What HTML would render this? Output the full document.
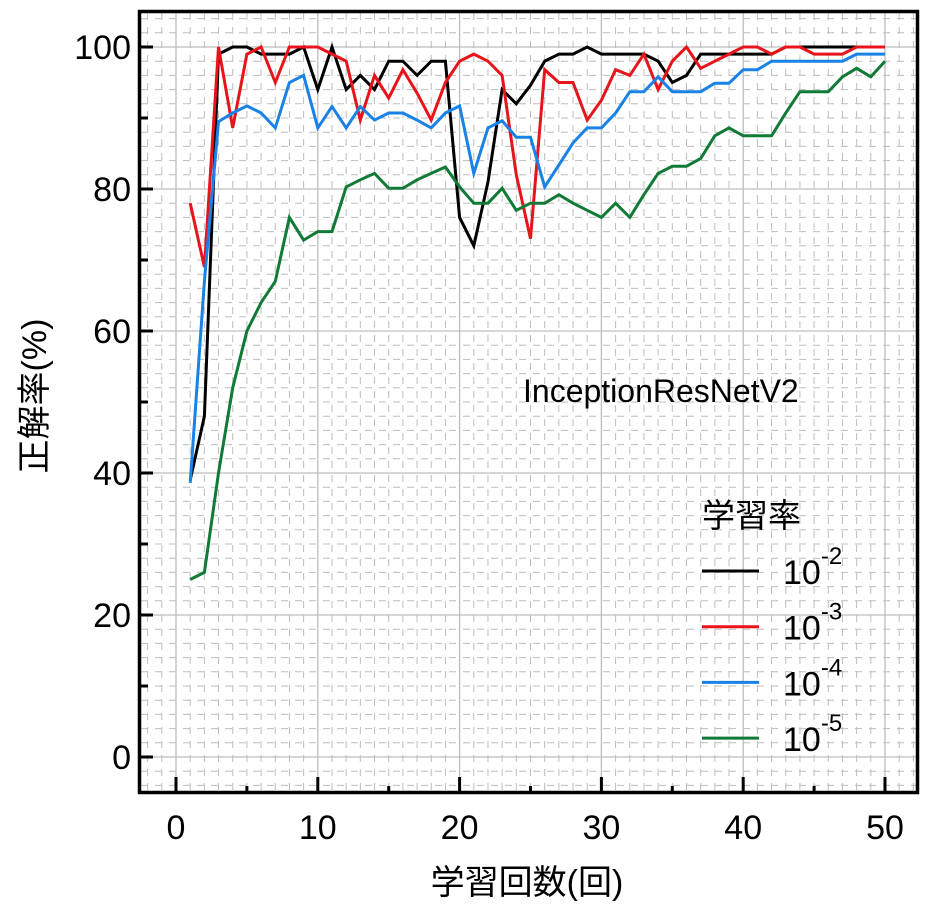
<!DOCTYPE html>
<html><head><meta charset="utf-8"><style>
html,body{margin:0;padding:0;background:#fff;}
svg{display:block;font-family:"Liberation Sans","Noto Sans CJK JP",sans-serif;}
</style></head><body>
<svg id="chart" width="931" height="912" viewBox="0 0 931 912">
<g id="grid"></g>
<g id="series"></g>
<rect x="139.5" y="11.5" width="778" height="781" fill="none" stroke="#000" stroke-width="3.5"/>
<g id="ticks"></g>
<text x="523" y="402" font-size="32" fill="#000">InceptionResNetV2</text>
<g id="legend">
<text x="702" y="527" font-size="33" fill="#000">学習率</text>
</g>
<text transform="translate(46,396) rotate(-90)" text-anchor="middle" font-size="34" fill="#000">正解率(%)</text>
<text x="527" y="894" text-anchor="middle" font-size="34" fill="#000">学習回数(回)</text>
</svg>
<script>
const xTicks = [0,10,20,30,40,50];
const yTicks = [0,20,40,60,80,100];
const legendLabels = ["-2","-3","-4","-5"];
const seriesColors = ["#000000","#e8141c","#1a82e6","#107a36"];
const epochs = [1,2,3,4,5,6,7,8,9,10,11,12,13,14,15,16,17,18,19,20,21,22,23,24,25,26,27,28,29,30,31,32,33,34,35,36,37,38,39,40,41,42,43,44,45,46,47,48,49,50];
const lr2 = [39,48,99,100,100,99,99,99,100,94,100,94,96,94,98,98,96,98,98,76,72,81,94,92,94.6,98,99,99,100,99,99,99,99,98,95,96,99,99,99,99,99,99,100,100,100,100,100,100,100,100];
const lr3 = [78,69,100,88.6,99,100,95,100,100,100,99,98,89.7,96,92.8,96.8,93.5,89.7,95,98,99,98,96,82,73,96.8,95,95,89.7,92.5,96.8,96,99,94,98,100,97,98,99,100,100,99,100,100,99,99,99,100,100,100];
const lr4 = [38.6,67,89.5,90.7,91.7,90.7,88.6,95,96,88.6,91.6,88.6,91.6,89.7,90.7,90.7,89.7,88.6,90.7,91.7,82.2,88.6,89.6,87.3,87.3,80.3,83.4,86.5,88.6,88.6,90.7,93.7,93.7,95.8,93.7,93.7,93.7,94.9,94.9,96.8,96.8,98,98,98,98,98,98,99,99,99];
const lr5 = [25,26,40,52,60,64,67,76,72.8,74,74,80.3,81.3,82.2,80.1,80.1,81.3,82.2,83.1,80.3,78,78,80.1,77,78,78,79.2,78,77,76,78,76,79.2,82.2,83.2,83.2,84.3,87.5,88.6,87.5,87.5,87.5,90.7,93.7,93.7,93.7,95.8,97,95.8,98];
const allSeries = [lr2,lr3,lr4,lr5];
const seriesNames = ["line-lr-1e-2","line-lr-1e-3","line-lr-1e-4","line-lr-1e-5"];

const NS = "http://www.w3.org/2000/svg";
const X0 = 176, XS = 14.18, Y0 = 757, YS = 7.1;
function sx(v){return X0 + v*XS;}
function sy(v){return Y0 - v*YS;}
function mk(tag, attrs, parent){const e=document.createElementNS(NS,tag);for(const k in attrs)e.setAttribute(k,attrs[k]);parent.appendChild(e);return e;}

const grid = document.getElementById('grid');
for(let v=-2; v<=52; v++){
  const x=sx(v); if(x<141||x>916) continue;
  const major = v%10===0;
  const l = mk('line',{x1:x,x2:x,y1:13,y2:791,stroke:'#bdbdbd','stroke-width':major?1.3:1,'stroke-dasharray':major?'none':'7 7'},grid);
  
  
}
for(let v=-4; v<=106; v+=2){
  const y=sy(v); if(y<13||y>791) continue;
  const major = v%20===0;
  const l = mk('line',{x1:141,x2:916,y1:y,y2:y,stroke:'#bdbdbd','stroke-width':major?1.3:1,'stroke-dasharray':major?'none':'7 7'},grid);
  
  
}

const ticks = document.getElementById('ticks');
xTicks.forEach(v=>{
  const t = mk('line',{x1:sx(v),x2:sx(v),y1:792,y2:777,stroke:'#000','stroke-width':3},ticks);
  
  
  if(v<50){
    const m = mk('line',{x1:sx(v+5),x2:sx(v+5),y1:792,y2:786,stroke:'#000','stroke-width':3},ticks);
    
    
  }
  const lab = mk('text',{x:sx(v),y:839,'text-anchor':'middle','font-size':34,fill:'#000'},ticks);
  lab.textContent = v;
  
  
});
yTicks.forEach(v=>{
  const t = mk('line',{x1:140,x2:153,y1:sy(v),y2:sy(v),stroke:'#000','stroke-width':3},ticks);
  
  
  if(v<100){
    const m = mk('line',{x1:140,x2:148,y1:sy(v+10),y2:sy(v+10),stroke:'#000','stroke-width':3},ticks);
    
    
  }
  const lab = mk('text',{x:131,y:sy(v)+12,'text-anchor':'end','font-size':34,fill:'#000'},ticks);
  lab.textContent = v;
  
  
});

const sg = document.getElementById('series');
allSeries.forEach((s,i)=>{
  const pts = s.map((v,j)=>sx(epochs[j]).toFixed(1)+','+sy(v).toFixed(1)).join(' ');
  const p = mk('polyline',{points:pts,fill:'none',stroke:seriesColors[i],'stroke-width':3,'stroke-linejoin':'miter'},sg);
  
  
});

const lg = document.getElementById('legend');
legendLabels.forEach((lab,i)=>{
  const y = 571 + i*55.7;
  const l = mk('line',{x1:702,x2:759,y1:y,y2:y,stroke:seriesColors[i],'stroke-width':3},lg);
  
  
  const t = mk('text',{x:783,y:y+13,'font-size':34,fill:'#000'},lg);
  
  
  t.appendChild(document.createTextNode('10'));
  const sup = mk('tspan',{dy:-20,'font-size':24},t);
  sup.textContent = lab;
});
</script>
</body></html>
